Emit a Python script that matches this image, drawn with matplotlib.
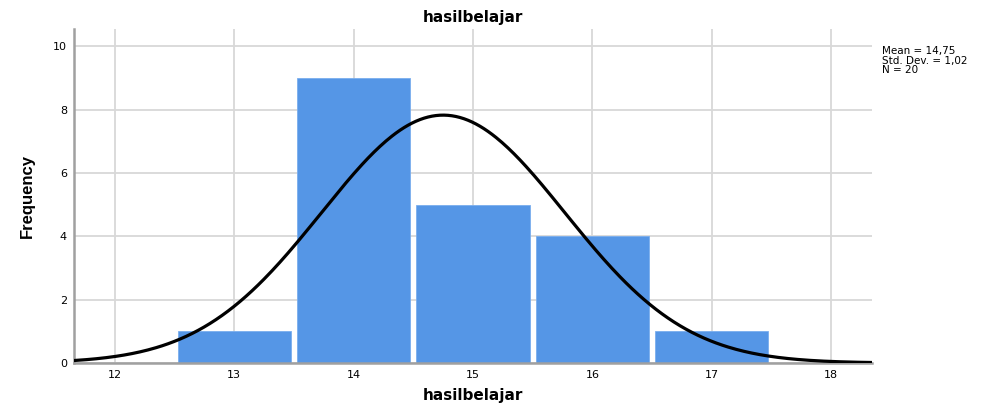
import numpy as np
import matplotlib
matplotlib.use("Agg")
import matplotlib.pyplot as plt

nilai = [13, 14, 15, 16, 17]
frekuensi = [1, 9, 5, 4, 1]

n = sum(frekuensi)
data = np.repeat(nilai, frekuensi)
mean = data.mean()
sd = data.std(ddof=1)

fig = plt.figure(figsize=(9.92, 4.05), dpi=100)
ax = fig.add_axes([0.0746, 0.1037, 0.8044, 0.8243])

ax.bar(nilai, frekuensi, width=0.95, color="#5596E6", edgecolor="#7aaeee",
       linewidth=0.6, zorder=2)

xs = np.linspace(11.657, 18.343, 400)
ys = n * 1.0 / (sd * np.sqrt(2 * np.pi)) * np.exp(-0.5 * ((xs - mean) / sd) ** 2)
ax.plot(xs, ys, color="black", linewidth=2.3, zorder=3)

ax.set_xlim(11.657, 18.343)
ax.set_ylim(0, 10.54)
ax.set_xticks(range(12, 19))
ax.set_yticks(range(0, 11, 2))
ax.grid(True, color="#d8d8d8", linewidth=1.3, zorder=0)
ax.set_axisbelow(True)
ax.tick_params(length=0, labelsize=8, pad=5)

for s in ["top", "right"]:
    ax.spines[s].set_visible(False)
for s in ["left", "bottom"]:
    ax.spines[s].set_color("#a0a0a0")
    ax.spines[s].set_linewidth(1.8)

ax.set_title("hasilbelajar", fontsize=11, fontweight="bold", pad=5)
ax.set_xlabel("hasilbelajar", fontsize=11, fontweight="bold", labelpad=6)
ax.set_ylabel("Frequency", fontsize=12, fontweight="bold", fontstretch="condensed",
              family="Liberation Sans", labelpad=13)

teks = "Mean = %s\nStd. Dev. = %s\nN = %d" % (
    f"{mean:.2f}".replace(".", ","), f"{sd:.2f}".replace(".", ","), n)
fig.text(882 / 992, 1 - 46 / 405, teks, fontsize=7.5, va="top", ha="left",
         linespacing=0.95)

fig.savefig("out.png", dpi=100)
